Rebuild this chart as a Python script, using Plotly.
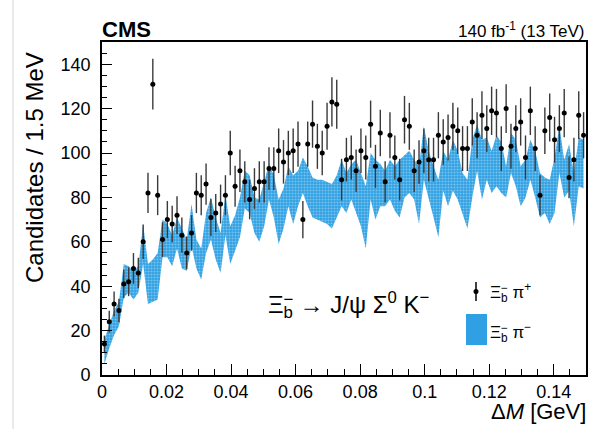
import math
import plotly.graph_objects as go

# ---------------- data ----------------
bin_width_gev = 0.0015
n_bins = 100
dm_centers = [round(bin_width_gev * (i + 0.5), 6) for i in range(n_bins)]

# Xi_b- pi+ candidates per 1.5 MeV bin
xib_pip_counts = [
    14, 24, 32, 29, 41, 42, 48, 46, 60, 82,
    131, 81, 61, 70, 68, 72, 63, 55, 64, 82,
    81, 86, 71, 73, 77, 81, 100, 85, 92, 87,
    79, 84, 87, 87, 93, 93, 101, 96, 100, 101,
    104, 70, 104, 113, 103, 100, 112, 123, 122, 88,
    97, 98, 92, 101, 98, 113, 94, 109, 87, 108,
    98, 88, 115, 112, 92, 96, 101, 97, 97, 108,
    105, 107, 112, 110, 102, 102, 114, 108, 117, 111,
    119, 118, 102, 120, 103, 111, 114, 98, 119, 102,
    81, 110, 116, 106, 111, 118, 89, 97, 117, 108,
]

# Xi_b- pi- band (lower / upper edge)
xib_pim_low = [
    5, 12, 18, 22, 35, 37, 34, 37, 50, 32,
    33, 34, 53, 53, 49, 57, 48, 47, 58, 48,
    43, 55, 61, 52, 46, 63, 50, 56, 62, 75,
    73, 64, 60, 67, 79, 71, 59, 66, 76, 68,
    76, 82, 76, 71, 70, 69, 68, 66, 71, 76,
    73, 79, 73, 67, 57, 79, 70, 76, 76, 79,
    74, 71, 80, 82, 79, 68, 88, 80, 71, 62,
    83, 76, 83, 79, 73, 66, 80, 92, 79, 88,
    82, 85, 82, 80, 91, 85, 76, 80, 88, 80,
    71, 73, 68, 73, 91, 80, 83, 67, 85, 84,
]
xib_pim_high = [
    16, 23, 29, 33, 50, 49, 47, 49, 68, 50,
    52, 55, 70, 68, 63, 71, 66, 61, 77, 61,
    57, 73, 80, 71, 64, 81, 67, 72, 80, 92,
    90, 80, 79, 87, 95, 90, 79, 84, 94, 90,
    92, 98, 94, 89, 88, 88, 87, 86, 90, 97,
    91, 95, 97, 91, 85, 100, 97, 95, 92, 97,
    94, 97, 99, 101, 97, 94, 112, 101, 94, 88,
    101, 97, 106, 101, 91, 88, 106, 113, 106, 107,
    101, 108, 105, 94, 109, 106, 94, 97, 106, 101,
    91, 89, 88, 98, 112, 97, 104, 91, 107, 106,
]

x_tick_vals = [0, 0.02, 0.04, 0.06, 0.08, 0.1, 0.12, 0.14]
x_tick_text = ["0", "0.02", "0.04", "0.06", "0.08", "0.1", "0.12", "0.14"]
y_tick_vals = [0, 20, 40, 60, 80, 100, 120, 140]

# ---------------- figure ----------------
FONT = "Liberation Sans, Arial, Helvetica, sans-serif"
BLUE = "#2fa0e3"

fig = go.Figure()

band_x = dm_centers + dm_centers[::-1]
band_y = xib_pim_high + xib_pim_low[::-1]
fig.add_trace(go.Scatter(
    x=band_x, y=band_y, mode="lines", fill="toself",
    line=dict(width=0, color=BLUE),
    fillcolor=BLUE,
    fillpattern=dict(shape=".", bgcolor=BLUE, fgcolor="#c4e6fa",
                     size=3, solidity=0.4),
    hoverinfo="skip", showlegend=False,
))

fig.add_trace(go.Scatter(
    x=dm_centers, y=xib_pip_counts, mode="markers",
    marker=dict(color="black", size=5, symbol="circle"),
    error_y=dict(type="data", array=[math.sqrt(v) for v in xib_pip_counts],
                 color="#3a3a3a", thickness=1.4, width=0),
    showlegend=False,
))

W, H = 589, 429
PLOT_LEFT, PLOT_RIGHT, PLOT_TOP, PLOT_BOTTOM = 102, 586, 42, 375
L, R, T, B = PLOT_LEFT, W - PLOT_RIGHT, PLOT_TOP, H - PLOT_BOTTOM
pw, ph = W - L - R, H - T - B


def px(X):
    return (X - PLOT_LEFT) / pw


def py(Y):
    return (PLOT_BOTTOM - Y) / ph


fig.update_layout(
    width=W, height=H,
    margin=dict(l=L, r=R, t=T, b=B, pad=0, autoexpand=False),
    paper_bgcolor="white", plot_bgcolor="white",
    font=dict(family=FONT, color="black", size=18),
    showlegend=False,
)

fig.update_xaxes(
    range=[0, 0.15], tickvals=x_tick_vals, ticktext=x_tick_text,
    ticks="inside", ticklen=11, tickwidth=1.2, tickcolor="black",
    minor=dict(ticks="inside", ticklen=6, dtick=0.005, tickwidth=1.2, tickcolor="black"),
    showline=True, linecolor="black", linewidth=1.6, mirror=True,
    showgrid=False, zeroline=False,
    tickfont=dict(size=18, family=FONT),
)
fig.update_yaxes(
    range=[0, 150], tickvals=y_tick_vals,
    ticks="inside", ticklen=10, tickwidth=1.2, tickcolor="black",
    minor=dict(ticks="inside", ticklen=5, dtick=5, tickwidth=1.2, tickcolor="black"),
    showline=True, linecolor="black", linewidth=1.6, mirror=True,
    showgrid=False, zeroline=False,
    tickfont=dict(size=18, family=FONT),
    ticklabelstandoff=6,
)

ann = []
ann.append(dict(x=px(100), y=py(30), xref="paper", yref="paper", xanchor="left",
                yanchor="middle", showarrow=False, text="<b>CMS</b>",
                font=dict(size=22, family=FONT)))
ann.append(dict(x=px(587), y=py(30), xref="paper", yref="paper", xanchor="right",
                yanchor="middle", showarrow=False,
                text="140 fb<sup>-1</sup> (13 TeV)", font=dict(size=17, family=FONT)))
ann.append(dict(x=px(588), y=py(411), xref="paper", yref="paper", xanchor="right",
                yanchor="middle", showarrow=False,
                text="Δ<i>M</i> [GeV]", font=dict(size=22, family=FONT)))
ann.append(dict(x=px(34), y=py(168), xref="paper", yref="paper", xanchor="center",
                yanchor="middle", showarrow=False, textangle=-90,
                text="Candidates / 1.5 MeV", font=dict(size=24, family=FONT)))

# main decay label (superscript stacked over subscript via an invisible "Ξ")
main_txt = "Ξ<sub>b</sub> → J/ψ Σ<sup>0</sup> K<sup>−</sup>"
ghost = "<span style='color:rgba(0,0,0,0)'>Ξ</span><sup>−</sup>"
for t in (main_txt, ghost):
    ann.append(dict(x=px(266), y=py(305), xref="paper", yref="paper", xanchor="left",
                    yanchor="middle", showarrow=False, text=t,
                    font=dict(size=24, family=FONT)))

# legend
leg1 = "Ξ<sub>b</sub> π<sup>+</sup>"
leg2 = "Ξ<sub>b</sub> π<sup>−</sup>"
for t, Y in ((leg1, 292), (leg2, 332)):
    ann.append(dict(x=px(488), y=py(Y), xref="paper", yref="paper", xanchor="left",
                    yanchor="middle", showarrow=False, text=t,
                    font=dict(size=17, family=FONT)))
    ann.append(dict(x=px(488), y=py(Y), xref="paper", yref="paper", xanchor="left",
                    yanchor="middle", showarrow=False,
                    text="<span style='color:rgba(0,0,0,0)'>Ξ</span><sup>−</sup>",
                    font=dict(size=17, family=FONT)))
fig.update_layout(annotations=ann)

shapes = []
shapes.append(dict(type="line", xref="paper", yref="paper",
                   x0=px(476), x1=px(476), y0=py(282), y1=py(301),
                   line=dict(color="black", width=1.5)))
shapes.append(dict(type="circle", xref="paper", yref="paper",
                   x0=px(473.5), x1=px(478.5), y0=py(289), y1=py(294),
                   fillcolor="black", line=dict(color="black", width=0)))
shapes.append(dict(type="rect", xref="paper", yref="paper",
                   x0=px(466), x1=px(487), y0=py(314), y1=py(345),
                   fillcolor=BLUE, line=dict(width=0)))
shapes.append(dict(type="line", xref="paper", yref="paper",
                   x0=px(13), x1=px(13), y0=py(0), y1=py(429),
                   line=dict(color="#d4d4d4", width=1)))
fig.update_layout(shapes=shapes)

fig.write_html(
    "out.html",
    config={"displayModeBar": False},
    post_script="document.body.style.margin='0';"
                "document.documentElement.style.overflow='hidden';",
)
